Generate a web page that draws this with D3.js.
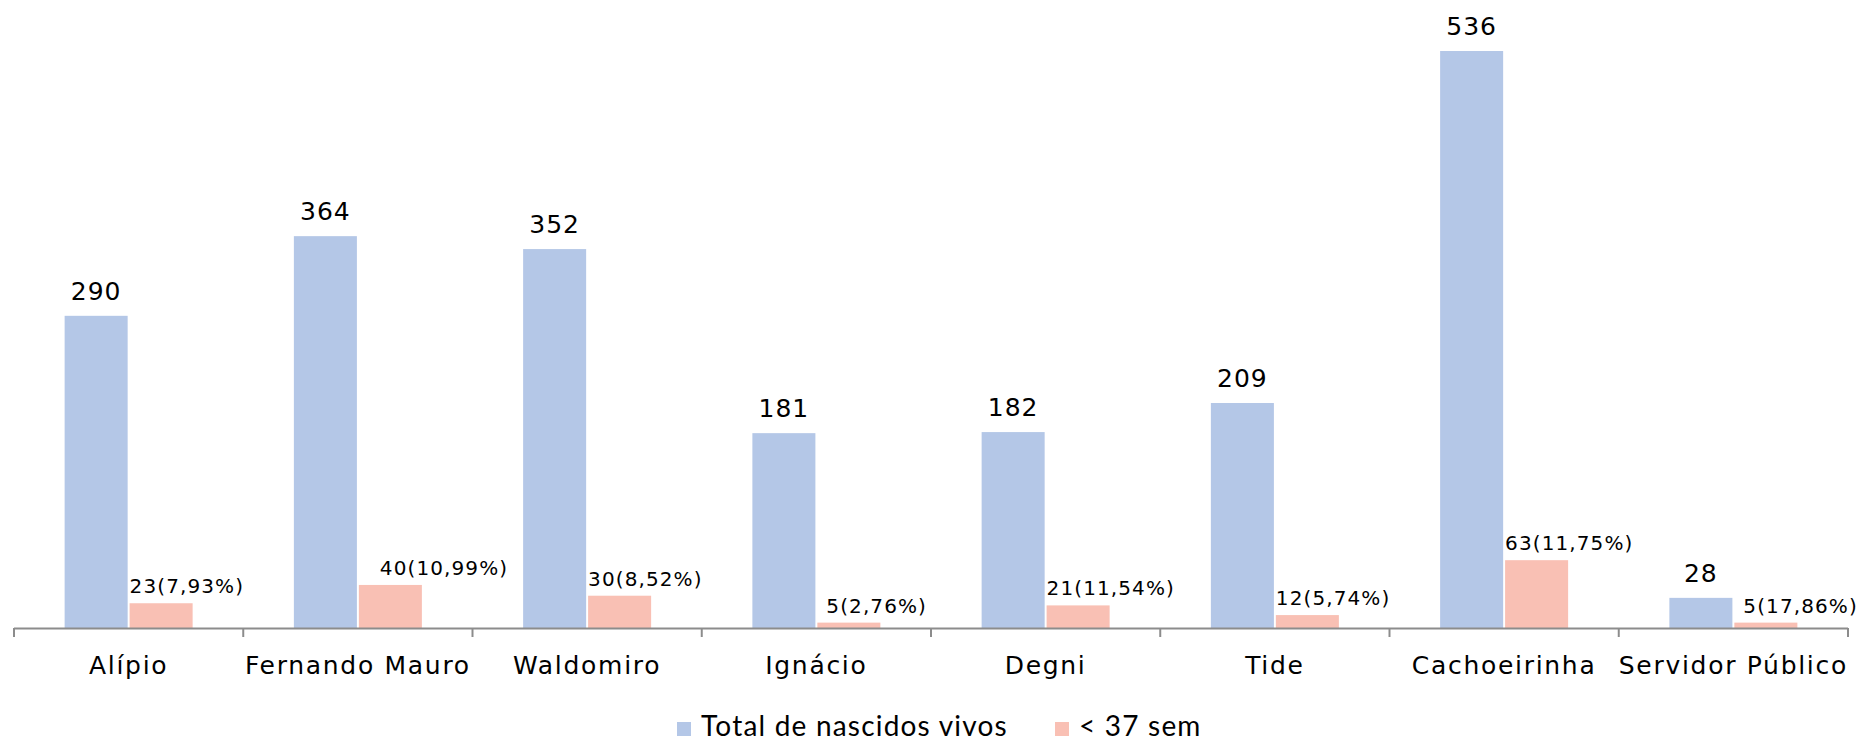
<!DOCTYPE html>
<html>
<head>
<meta charset="utf-8">
<script src="https://cdn.jsdelivr.net/npm/d3@7"></script>
<style>
  html, body { margin: 0; padding: 0; background: #ffffff; }
  svg { display: block; }
</style>
</head>
<body>
<svg id="chart" width="1863" height="742"></svg>
<script>
// Live births per health unit and those born before 37 weeks
const categories = ["Alípio", "Fernando Mauro", "Waldomiro", "Ignácio", "Degni", "Tide", "Cachoeirinha", "Servidor Público"];
const seriesNames = ["Total de nascidos vivos", "< 37 sem"];
const totalBirths = [290, 364, 352, 181, 182, 209, 536, 28];
const pretermBirths = [23, 40, 30, 5, 21, 12, 63, 5];
const pretermPct = ["7,93", "10,99", "8,52", "2,76", "11,54", "5,74", "11,75", "17,86"];

const colors = ["#B4C7E7", "#F9C0B4"];

const W = 1863, H = 742;
const axisY = 628, left = 14, right = 1848;

const svg = d3.select("#chart");

const x0 = d3.scaleBand().domain(categories).range([left, right]).paddingInner(0).paddingOuter(0);
const groupW = 128;
const x1 = d3.scaleBand().domain(seriesNames)
  .range([(x0.bandwidth() - groupW) / 2, (x0.bandwidth() + groupW) / 2])
  .paddingInner(0.03);
const y = d3.scaleLinear().domain([0, 536]).range([axisY, 51]);

// Per-label horizontal nudges for the preterm labels (pixels)
const pretermNudge = [0, 21, 0, 9, 0, 0, 0, 9];

const rows = categories.map((c, i) => ({
  cat: c, i,
  values: [totalBirths[i], pretermBirths[i]]
}));

const g = svg.append("g");
const groups = g.selectAll("g.grp").data(rows).join("g")
  .attr("class", "grp")
  .attr("transform", d => `translate(${x0(d.cat)},0)`);

groups.selectAll("rect").data(d => d.values.map((v, k) => ({ v, k })))
  .join("rect")
  .attr("x", d => x1(seriesNames[d.k]))
  .attr("width", x1.bandwidth())
  .attr("y", d => y(d.v))
  .attr("height", d => axisY - y(d.v))
  .attr("fill", d => colors[d.k]);

// Value labels above the total bars
groups.append("text")
  .attr("x", x1(seriesNames[0]) + x1.bandwidth() / 2)
  .attr("y", d => y(d.values[0]) - 16)
  .attr("text-anchor", "middle")
  .attr("font-family", "DejaVu Sans")
  .attr("font-size", 25)
  .attr("letter-spacing", 1)
  .attr("fill", "#000")
  .text(d => d.values[0]);

// Count and percentage labels above the preterm bars
groups.append("text")
  .attr("x", d => x1(seriesNames[1]) + pretermNudge[d.i])
  .attr("y", d => y(d.values[1]) - 10)
  .attr("text-anchor", "start")
  .attr("font-family", "DejaVu Sans")
  .attr("font-size", 20)
  .attr("letter-spacing", 1.1)
  .attr("fill", "#000")
  .text(d => `${d.values[1]}(${pretermPct[d.i]}%)`);

// Category axis: baseline, boundary ticks and centred labels
svg.append("line")
  .attr("x1", left).attr("x2", right)
  .attr("y1", axisY + 0.5).attr("y2", axisY + 0.5)
  .attr("stroke", "#8c8c8c").attr("stroke-width", 2);

const boundaries = categories.map(c => x0(c)).concat([right]);
svg.append("g").selectAll("line").data(boundaries).join("line")
  .attr("x1", d => d).attr("x2", d => d)
  .attr("y1", axisY).attr("y2", axisY + 9)
  .attr("stroke", "#8c8c8c").attr("stroke-width", 2);

svg.append("g").selectAll("text").data(categories).join("text")
  .attr("x", d => x0(d) + x0.bandwidth() / 2)
  .attr("y", axisY + 46)
  .attr("text-anchor", "middle")
  .attr("font-family", "DejaVu Sans")
  .attr("font-size", 25)
  .attr("letter-spacing", 1.7)
  .attr("fill", "#000")
  .text(d => d);

// Legend
const legendItems = [
  { name: seriesNames[0], color: colors[0], x: 677 },
  { name: seriesNames[1], color: colors[1], x: 1055 }
];
const lg = svg.append("g").selectAll("g").data(legendItems).join("g")
  .attr("transform", d => `translate(${d.x},722)`);
lg.append("rect").attr("width", 14).attr("height", 14).attr("fill", d => d.color);
lg.append("text")
  .attr("x", 24).attr("y", 14)
  .attr("font-family", "Lato")
  .attr("font-size", 28)
  .attr("letter-spacing", 1.2)
  .attr("fill", "#000")
  .text(d => d.name);
</script>
</body>
</html>
